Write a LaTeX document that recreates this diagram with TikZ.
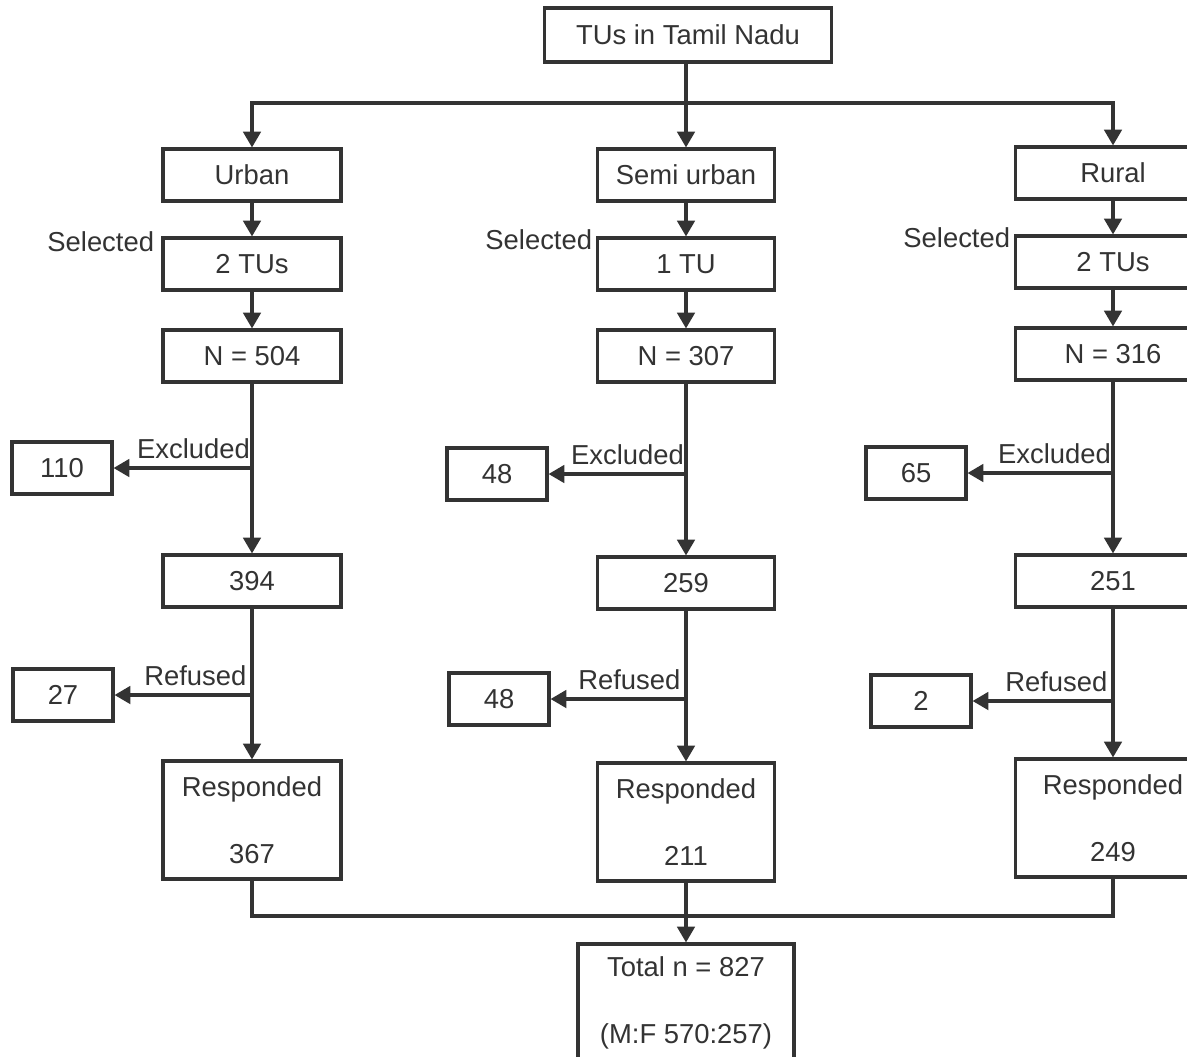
\documentclass[tikz,border=0pt]{standalone}
\usepackage{fontspec}
\setmainfont{Liberation Sans}
\usetikzlibrary{arrows.meta}
\definecolor{ink}{HTML}{333333}

\tikzset{
  box/.style={draw=ink, text=ink, line width=1.8pt, minimum width=3.56cm,
    minimum height=1.04cm, inner sep=2pt, align=center},
  sidebox/.style={box, minimum width=2cm},
  tallbox/.style={box, minimum height=2.36cm},
  arr/.style={draw=ink, line width=1.8pt, -{Triangle[length=9pt,width=10pt]}},
  link/.style={draw=ink, line width=1.8pt},
  lbl/.style={text=ink, inner xsep=1pt, inner ysep=5pt}
}

\begin{document}
\begin{tikzpicture}[x=0.02cm, y=-0.02cm,
      every node/.style={font=\fontsize{15.6}{18}\selectfont}]
    \useasboundingbox (0,0) rectangle (1187,1056);

    % top and the three areas
    \node[box, minimum width=5.74cm, minimum height=1.08cm] (tn) at (688,35) {TUs in Tamil Nadu};
    \coordinate (split) at (686,103);
    \node[box] (urb) at (252,175) {Urban};
    \node[box, minimum width=3.54cm] (sem) at (686,175) {Semi urban};
    \node[box, minimum width=3.9cm] (rur) at (1113,173) {Rural};
    \draw[link] (tn.south -| split) -- (split);
    \draw[arr] (split) -| (urb);
    \draw[arr] (split) -- (sem);
    \draw[arr] (split) -| (rur);

    % selected units
    \node[box] (urbSel) at (252,264) {2 TUs};
    \node[box, minimum width=3.54cm] (semSel) at (686,264) {1 TU};
    \node[box, minimum width=3.9cm] (rurSel) at (1113,262) {2 TUs};
    \node[lbl, anchor=east, xshift=-3pt, yshift=-3pt] at (urbSel.north west) {Selected};
    \node[lbl, anchor=east, xshift=-1pt, yshift=-2pt] at (semSel.north west) {Selected};
    \node[lbl, anchor=east, xshift=-1pt, yshift=-2pt] at (rurSel.north west) {Selected};
    \draw[arr] (urb) -- (urbSel);
    \draw[arr] (sem) -- (semSel);
    \draw[arr] (rur) -- (rurSel);

    % sample sizes
    \node[box] (urbN) at (252,356) {N = 504};
    \node[box, minimum width=3.54cm] (semN) at (686,356) {N = 307};
    \node[box, minimum width=3.9cm] (rurN) at (1113,354) {N = 316};
    \draw[arr] (urbSel) -- (urbN);
    \draw[arr] (semSel) -- (semN);
    \draw[arr] (rurSel) -- (rurN);

    % excluded
    \node[sidebox] (urbEx) at (62,468) {110};
    \node[sidebox] (semEx) at (497,474) {48};
    \node[sidebox] (rurEx) at (916,473) {65};
    \node[box] (urbK) at (252,581) {394};
    \node[box, minimum width=3.54cm] (semK) at (686,583) {259};
    \node[box, minimum width=3.9cm] (rurK) at (1113,581) {251};
    \foreach \c in {urb,sem,rur} {
      \draw[arr] (\c N) -- (\c K);
      \draw[arr] (\c N.south |- \c Ex) -- (\c Ex);
      \node[lbl, anchor=south east] at (\c N.south |- \c Ex) {Excluded};
    }

    % refused and responded
    \node[sidebox] (urbRef) at (63,695) {27};
    \node[sidebox] (semRef) at (499,699) {48};
    \node[sidebox] (rurRef) at (921,701) {2};
    \node[tallbox] (urbR) at (252,820) {Responded\\[20pt]367};
    \node[tallbox, minimum width=3.54cm] (semR) at (686,822) {Responded\\[20pt]211};
    \node[tallbox, minimum width=3.9cm] (rurR) at (1113,818) {Responded\\[20pt]249};
    \foreach \c in {urb,sem,rur} {
      \draw[arr] (\c K) -- (\c R);
      \draw[arr] (\c K.south |- \c Ref) -- (\c Ref);
      \node[lbl, anchor=south east, inner xsep=3pt, inner ysep=5pt] at (\c K.south |- \c Ref) {Refused};
    }

    % total
    \coordinate (join) at (686,916);
    \node[box, minimum width=4.32cm, minimum height=2.36cm] (tot) at (686,1003)
      {Total n = 827\\[20pt](M:F 570:257)};
    \draw[link] (urbR) |- (join) -| (rurR);
    \draw[arr] (semR) -- (tot);
  \end{tikzpicture}
\end{document}
